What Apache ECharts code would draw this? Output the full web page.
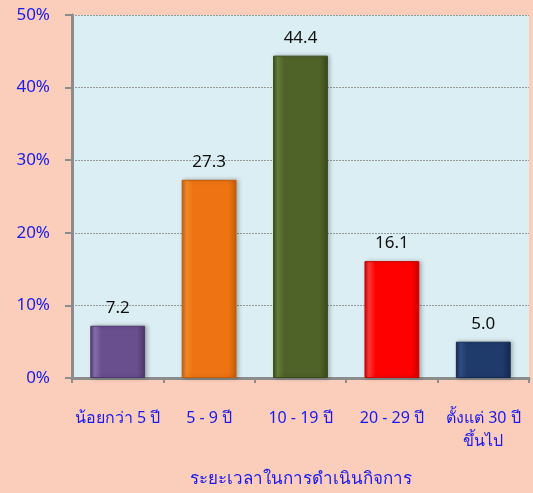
<!DOCTYPE html>
<html>
<head>
<meta charset="utf-8">
<script src="https://cdn.jsdelivr.net/npm/echarts@6/dist/echarts.min.js"></script>
<style>
  html, body { margin: 0; padding: 0; background: #fbcdbb; }
  #chart { width: 533px; height: 493px; }
</style>
</head>
<body>
<div id="chart"></div>
<script>
// data
const categories = ["น้อยกว่า 5 ปี", "5 - 9 ปี", "10 - 19 ปี", "20 - 29 ปี", "ตั้งแต่ 30 ปี\nขึ้นไป"];
const values = [7.2, 27.3, 44.4, 16.1, 5.0];
const barColors = [
  ["#8a70ad", "#6a4f8f", "#4e3870"],
  ["#f58a2a", "#ee7413", "#c55c08"],
  ["#66803a", "#4f6228", "#3a4a1c"],
  ["#ff3a3a", "#ff0000", "#cc0000"],
  ["#2f5185", "#1f3b6b", "#142a50"]
];
const xName = "ระยะเวลาในการดำเนินกิจการ";

const blue = "#1a1aee";
const font = "Tahoma, Noto Sans, sans-serif";

const chart = echarts.init(document.getElementById("chart"));

const option = {
  animation: false,
  backgroundColor: "#fbcdbb",
  grid: {
    left: 72, right: 4, top: 15, bottom: 112,
    show: true, backgroundColor: "#dbeef4", borderWidth: 0
  },
  xAxis: {
    type: "category",
    data: categories,
    name: xName,
    nameLocation: "middle",
    nameGap: 93,
    nameTextStyle: { color: blue, fontSize: 17, fontFamily: font },
    axisLine: { lineStyle: { color: "#8c8c8c", width: 3 } },
    axisTick: { show: true, length: 5, lineStyle: { color: "#8c8c8c", width: 2 } },
    axisLabel: {
      color: blue, fontSize: 16, fontFamily: font,
      margin: 29, lineHeight: 23, interval: 0
    }
  },
  yAxis: {
    type: "value",
    min: 0, max: 50, interval: 10,
    axisLine: { show: true, lineStyle: { color: "#8c8c8c", width: 3 } },
    axisTick: { show: true, length: 7, lineStyle: { color: "#8c8c8c", width: 2 } },
    axisLabel: {
      color: blue, fontSize: 17, fontFamily: font,
      margin: 22, formatter: "{value}%"
    },
    splitLine: { lineStyle: { color: "#999", type: [2, 1], width: 1 } }
  },
  series: [{
    type: "bar",
    data: values.map((v, i) => ({
      value: v,
      itemStyle: {
        color: new echarts.graphic.LinearGradient(0, 0, 1, 0, [
          { offset: 0, color: barColors[i][2] },
          { offset: 0.08, color: barColors[i][0] },
          { offset: 0.2, color: barColors[i][1] },
          { offset: 0.85, color: barColors[i][1] },
          { offset: 1, color: barColors[i][2] }
        ]),
        borderColor: barColors[i][2],
        borderWidth: 1,
        shadowColor: "rgba(0,0,0,0.25)",
        shadowBlur: 4,
        shadowOffsetX: 2
      }
    })),
    barWidth: "60%",
    label: {
      show: true, position: "top", distance: 9,
      color: "#111", fontSize: 17, fontFamily: font,
      formatter: p => p.value.toFixed(1)
    }
  }]
};

chart.setOption(option);
</script>
</body>
</html>
